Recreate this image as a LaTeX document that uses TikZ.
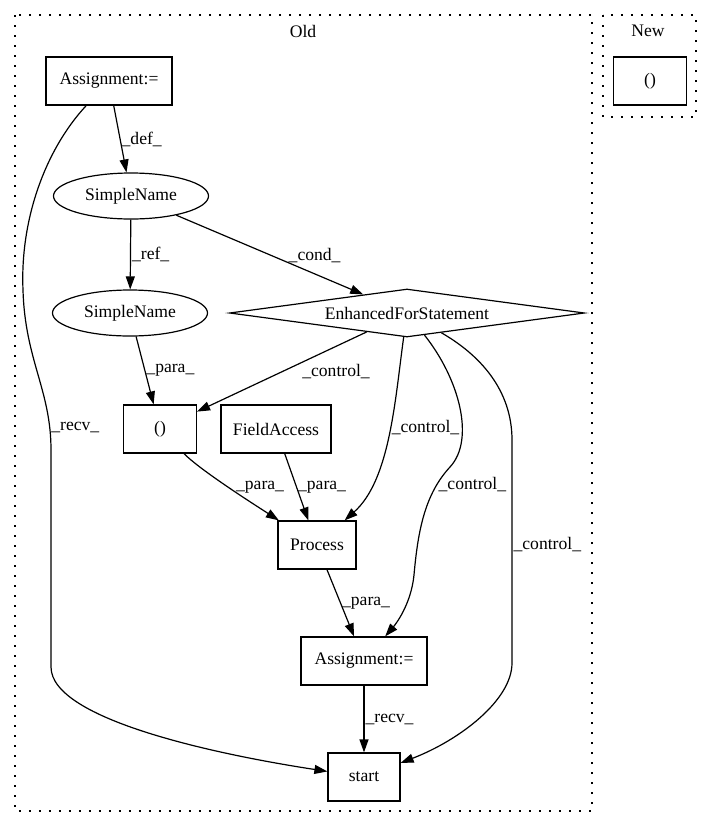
\documentclass[tikz,border=0pt]{standalone}
\usepackage{fontspec}
\setmainfont{Liberation Serif}
\usetikzlibrary{shapes.geometric,arrows.meta}

\begin{document}
\begin{tikzpicture}[x=1pt,y=-1pt,font=\fontsize{17.6}{20}\selectfont,
    box/.style={draw,line width=1.2pt,minimum height=48pt,inner sep=0pt},
    oval/.style={draw,ellipse,line width=1.2pt,minimum width=155pt,minimum height=46pt,inner sep=0pt},
    loopbox/.style={draw,diamond,shape aspect=7.4,line width=1.2pt,minimum width=355pt,minimum height=48pt,inner sep=0pt},
    flow/.style={line width=1.2pt,-{Triangle[length=13pt,width=9pt]}},
    lbl/.style={inner sep=1pt}]

\useasboundingbox (0,0) rectangle (712,828);

\def\oldframe{(15,15) rectangle (592,811)}
\def\newframe{(603,15) rectangle (696,117)}

% clusters
\draw[line width=1.3pt,dash pattern=on 1.6pt off 8.4pt] \oldframe \newframe;
\node (oldlbl) at (303,31) {Old};
\node (newlbl) at (648,31) {New};

% nodes
\node[box,minimum width=126pt] (asgnA) at (109,81) {Assignment:=};
\node[oval] (sname1) at (131,196) {SimpleName};
\node[oval] (sname2) at (130,313) {SimpleName};
\node[loopbox] (efor) at (407,313) {EnhancedForStatement};
\node[box,minimum width=73pt] (paren) at (160,429) {()};
\node[box,minimum width=110pt] (fldacc) at (276,429) {FieldAccess};
\node[box,minimum width=78pt] (proc) at (317,545) {Process};
\node[box,minimum width=126pt] (asgnB) at (364,661) {Assignment:=};
\node[box,minimum width=72pt] (start) at (364,777) {start};
\node[box,minimum width=73pt] (newparen) at (650,81) {()};

% edges
\draw[flow] (asgnA) -- (sname1) node[lbl,pos=0.5,right] {\_def\_};
\draw[flow] (asgnA) .. controls (45,150) and (20,220) .. (23,290)
    .. controls (25,360) and (51,390) .. (51,450) node[lbl,pos=0.87,right] {\_recv\_}
    -- (51,667) .. controls (51,720) and (220,755) .. (start);
\draw[flow] (sname1) -- (sname2) node[lbl,pos=0.5,right] {\_ref\_};
\draw[flow] (sname1) -- (efor) node[lbl,pos=0.74,above=9pt] {\_cond\_};
\draw[flow] (sname2) -- (paren) node[lbl,pos=0.5,right] {\_para\_};
\draw[flow] (efor) -- (paren) node[lbl,pos=0.18,below=16pt] {\_control\_};
\draw[flow] (efor) .. controls (395,400) and (390,480) .. (proc)
    node[lbl,pos=0.45,right] {\_control\_};
\draw[flow] (paren) .. controls (200,470) and (255,505) .. (proc)
    node[lbl,pos=0.5,right=6pt] {\_para\_};
\draw[flow] (fldacc) -- (proc) node[lbl,pos=0.5,right] {\_para\_};
\draw[flow] (efor) .. controls (460,380) and (475,440) .. (450,467)
    .. controls (425,494) and (418,530) .. (414,575) node[lbl,pos=0.2,right] {\_control\_}
    .. controls (411,605) and (395,625) .. (asgnB);
\draw[flow] (efor) .. controls (480,355) and (512,390) .. (512,440)
    -- (512,663) node[lbl,pos=0.47,right] {\_control\_}
    .. controls (512,700) and (460,740) .. (start);
\draw[flow] (proc) -- (asgnB) node[lbl,pos=0.5,right] {\_para\_};
\draw[flow] (asgnB) -- (start) node[lbl,pos=0.5,right] {\_recv\_};

\end{tikzpicture}
\end{document}
